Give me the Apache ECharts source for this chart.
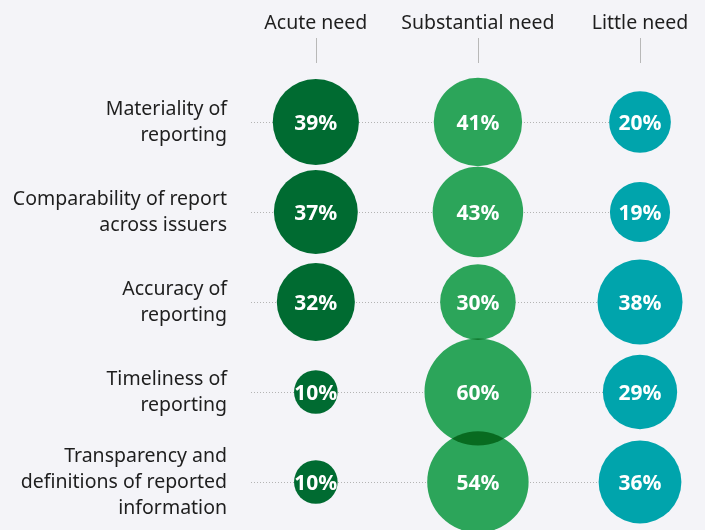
<!DOCTYPE html>
<html>
<head>
<meta charset="utf-8">
<script src="https://cdn.jsdelivr.net/npm/echarts@6/dist/echarts.min.js"></script>
<style>
  html, body { margin: 0; padding: 0; background: #f4f4f8; }
  #main { width: 705px; height: 530px; }
</style>
</head>
<body>
<div id="main"></div>
<script>
// columns and rows
const columns = ['Acute need', 'Substantial need', 'Little need']
const rows = [
  'Materiality of\nreporting',
  'Comparability of report\nacross issuers',
  'Accuracy of\nreporting',
  'Timeliness of\nreporting',
  'Transparency and\ndefinitions of reported\ninformation'
]

// percentages per column, top row first
const acute = [39, 37, 32, 10, 10]
const substantial = [41, 43, 30, 60, 54]
const little = [20, 19, 38, 29, 36]

const colors = ['#006b31', '#2ca55a', '#00a4ac']
const font = '"Noto Sans", sans-serif'

const toPoints = (arr, col) => arr.map((v, i) => [col, i, v])
const bubbleSize = (val) => 13.8 * Math.sqrt(val[2])

const allPoints = [
  ...toPoints(acute, 0),
  ...toPoints(substantial, 1),
  ...toPoints(little, 2)
]

const bubbleSeries = [acute, substantial, little].map((arr, c) => ({
  type: 'scatter',
  name: columns[c],
  data: toPoints(arr, c),
  symbolSize: bubbleSize,
  zlevel: 1,
  blendMode: 'multiply',
  itemStyle: { color: colors[c], opacity: 1 },
  label: { show: false },
  emphasis: { disabled: true },
  silent: true
}))

const chart = echarts.init(document.getElementById('main'))

chart.setOption({
  backgroundColor: '#f4f4f8',
  animation: false,
  grid: { left: 251, width: 389, top: 122, height: 360 },
  xAxis: {
    type: 'value',
    min: -0.4,
    max: 2,
    position: 'top',
    offset: 59,
    splitLine: { show: false },
    axisLine: { show: false },
    axisTick: {
      show: true,
      customValues: [0, 1, 2],
      length: 25,
      lineStyle: { color: '#b8b8b8', width: 1 }
    },
    axisLabel: {
      customValues: [0, 1, 2],
      formatter: (v) => columns[Math.round(v)],
      margin: 30,
      fontSize: 19.5,
      fontFamily: font,
      color: '#1e1e1e'
    }
  },
  yAxis: {
    type: 'category',
    data: rows,
    inverse: true,
    boundaryGap: false,
    axisLine: { show: false },
    axisTick: { show: false },
    axisLabel: {
      interval: 0,
      margin: 24,
      fontSize: 19.5,
      lineHeight: 26,
      fontFamily: font,
      color: '#1e1e1e',
      align: 'right'
    },
    splitLine: {
      show: true,
      interval: 0,
      lineStyle: { color: '#b4b4b4', width: 1, type: [1, 2] }
    }
  },
  series: [
    ...bubbleSeries,
    {
      // labels on top, kept apart from the multiplied bubbles
      type: 'scatter',
      data: allPoints,
      symbolSize: bubbleSize,
      zlevel: 2,
      itemStyle: { color: 'rgba(0,0,0,0)', opacity: 1 },
      label: {
        show: true,
        position: 'inside',
        offset: [0, 2],
        formatter: (p) => p.value[2] + '%',
        color: '#ffffff',
        opacity: 1,
        fontSize: 21,
        fontWeight: 'bold',
        fontFamily: font
      },
      emphasis: { disabled: true },
      silent: true
    }
  ]
})
</script>
</body>
</html>
